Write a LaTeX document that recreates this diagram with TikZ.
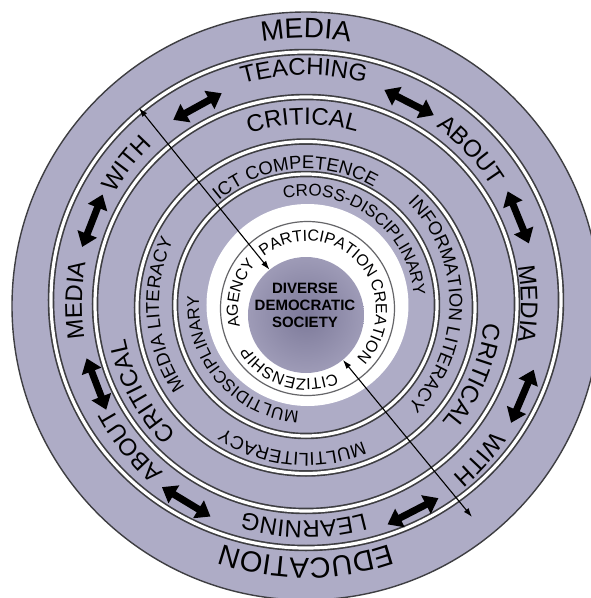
\documentclass[tikz,border=0pt]{standalone}
\usepackage{fontspec}
\setmainfont{Liberation Sans}
\usetikzlibrary{decorations.text,arrows.meta}
\definecolor{ringfill}{RGB}{174,172,198}
\definecolor{hubfill}{RGB}{158,155,183}
\definecolor{hubdeep}{RGB}{124,121,153}
\definecolor{rimline}{RGB}{62,62,66}
\newcommand\ringtext[4]{%
  \path[decorate,decoration={text along path,text align=center,
      text={|\fontsize{#3}{#3}\selectfont|#4}}]
    ({#2+80}:#1) arc[start angle={#2+80},end angle={#2-80},radius=#1];}
\tikzset{
  rim/.style={draw=rimline,line width=6.5pt,postaction={draw=white,line width=3.2pt}},
  swap/.style={line width=7pt,{Triangle[length=14pt,width=20pt]}-{Triangle[length=14pt,width=20pt]}},
  link/.style={line width=1.1pt,{Latex[length=9pt,width=6pt]}-{Latex[length=9pt,width=6pt]}}
}
\begin{document}
\begin{tikzpicture}[x=1pt,y=1pt]
\useasboundingbox (-306,-294) rectangle (285,304);
\clip (-306,-294) rectangle (285,304);
\filldraw[fill=ringfill,draw=rimline,line width=1.4pt] (0,-2) circle (294);
\draw[rim] (0,4) ellipse [x radius=255,y radius=248];
\draw[rim] (0,0) ellipse [x radius=211,y radius=207];
\draw[rim] (0,-3.5) ellipse [x radius=169,y radius=166];
\draw[rim] (0,-1) circle (131);
\fill[white] (1.5,-1) circle (101);
\draw[rimline!80,line width=1.2pt] (1.5,-4.5) circle (87);
\node[circle,inner color=hubdeep,outer color=hubfill,minimum size=116pt,inner sep=0pt] (hub) at (0,-11) {};
\node[font=\bfseries\fontsize{15}{17.2}\selectfont,align=center,inner sep=0pt] (society) at (-1,-1.5) {DIVERSE\\DEMOCRATIC\\SOCIETY};
\coordinate (nw) at (-167,196);
\coordinate (se) at (166,-213);
\draw[link] (nw) -- (hub);
\draw[link] (se) -- (hub);
\foreach \a/\r in {62.9/228,22.2/231,-23.1/237,-62.7/235,238.8/233,200.9/226,158.7/231,118.8/227}
  \draw[swap] ({\a-7}:\r) -- ({\a+7}:\r);
\ringtext{266}{90}{28}{MEDIA}
\ringtext{254}{-90}{29}{EDUCATION}
\ringtext{229}{90.5}{24}{TEACHING}
\ringtext{220}{43}{24}{ABOUT}
\ringtext{215}{0}{24}{MEDIA}
\ringtext{226}{-41.8}{24}{WITH}
\ringtext{217}{-90.6}{24}{LEARNING}
\ringtext{220}{219}{24}{ABOUT}
\ringtext{224}{179}{24}{MEDIA}
\ringtext{221}{142}{24}{WITH}
\ringtext{179.5}{91}{24}{CRITICAL}
\ringtext{179.5}{-23.5}{24}{CRITICAL}
\ringtext{183.5}{208}{24}{CRITICAL}
\ringtext{135}{95}{18.5}{ICT COMPETENCE}
\ringtext{143.5}{0}{18.5}{INFORMATION LITERACY}
\ringtext{149}{-95.5}{18.5}{MULTILITERACY}
\ringtext{147}{184.5}{18.5}{MEDIA LITERACY}
\ringtext{108}{53}{17}{CROSS-DISCIPLINARY}
\ringtext{107}{221}{17}{MULTIDISCIPLINARY}
\begin{scope}[shift={(1,-6)}]
\ringtext{69}{78}{16}{PARTICIPATION}
\ringtext{69}{-10}{16}{CREATION}
\ringtext{69}{253}{16}{CITIZENSHIP}
\ringtext{69}{166}{16}{AGENCY}
\end{scope}
\end{tikzpicture}
\end{document}
